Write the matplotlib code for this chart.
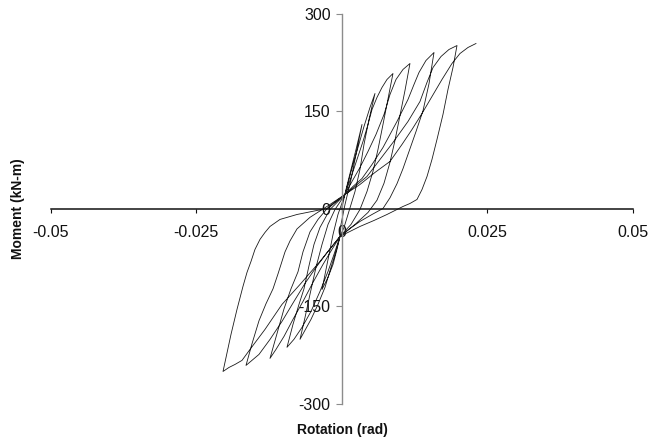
import matplotlib
matplotlib.use('Agg')

import numpy as np
from matplotlib import pyplot as plt

plt.rcParams['font.family'] = ['Liberation Sans', 'DejaVu Sans']

# rotation (rad) / moment (kN-m), one list per cycle
rot_0 = [0, 0.00074, 0.00160, 0.00246, 0.00349, 0.00263, 0.00160, 0.00057, -0.00012, -0.00029,
         -0.00081, -0.00149, -0.00235, -0.00338, -0.00235, -0.00149, -0.00064, 0.00057]
mom_0 = [0, 29.6, 60.4, 91.1, 129.5, 91.1, 45.0, 6.6, -24.1, -42.5,
         -62.4, -85.5, -105.4, -124.0, -77.9, -39.5, -8.8, 22.0]

rot_1 = [0.00125, 0.00194, 0.00280, 0.00383, 0.00486, 0.00572,
         0.00469, 0.00383, 0.00314, 0.00229, 0.00125, 0.00040, -0.00029,
         -0.00098, -0.00184, -0.00287, -0.00407, -0.00527, -0.00630, -0.00716,
         -0.00630, -0.00545, -0.00442, -0.00338, -0.00235, -0.00115, 0.00057]
mom_1 = [45.0, 68.1, 94.2, 126.4, 155.6, 177.1,
         137.2, 98.8, 60.4, 26.6, -4.1, -28.7, -42.5,
         -65.5, -90.1, -120.8, -146.9, -169.9, -186.8, -200.6,
         -166.9, -131.6, -90.1, -54.8, -24.1, -1.1, 22.0]

rot_2 = [0.00160, 0.00263, 0.00366, 0.00452, 0.00521, 0.00606, 0.00692, 0.00778, 0.00881,
         0.00795, 0.00710, 0.00624, 0.00538, 0.00435, 0.00314, 0.00160, -0.00029,
         -0.00132, -0.00235, -0.00373, -0.00527, -0.00682, -0.00820, -0.00940,
         -0.00837, -0.00734, -0.00648, -0.00562, -0.00476, -0.00373, -0.00201, 0.00057]
mom_2 = [48.1, 75.7, 103.4, 129.5, 152.5, 171.0, 186.3, 198.6, 207.8,
         168.1, 129.7, 91.3, 57.5, 26.6, -1.1, -24.1, -42.5,
         -70.1, -96.3, -127.0, -157.7, -182.3, -200.6, -212.9,
         -177.7, -147.0, -123.0, -87.6, -54.8, -28.7, -1.1, 22.0]

rot_3 = [0.00177, 0.00314, 0.00452, 0.00589, 0.00727, 0.00830, 0.00933, 0.01053, 0.01173,
         0.01088, 0.01002, 0.00916, 0.00830, 0.00727, 0.00606, 0.00452, 0.00229, -0.00029,
         -0.00167, -0.00321, -0.00493, -0.00665, -0.00837, -0.00991, -0.01129, -0.01232,
         -0.01112, -0.00991, -0.00871, -0.00751, -0.00665, -0.00545, -0.00407, -0.00235, 0.00057]
mom_3 = [41.9, 63.4, 88.0, 114.1, 144.8, 175.6, 198.6, 214.0, 223.2,
         182.0, 143.6, 105.2, 71.4, 39.2, 13.1, -5.7, -24.1, -42.5,
         -62.5, -85.5, -113.2, -142.4, -170.0, -196.1, -216.1, -229.9,
         -192.1, -153.7, -123.0, -96.9, -66.2, -35.6, -16.4, 2.0, 22.0]

rot_4 = [0.00194, 0.00349, 0.00521, 0.00710, 0.00950, 0.01139, 0.01242, 0.01328, 0.01448, 0.01586,
         0.01500, 0.01397, 0.01276, 0.01173, 0.01053, 0.00950, 0.00830, 0.00710, 0.00521, 0.00314,
         0.00143, -0.00029,
         -0.00235, -0.00442, -0.00630, -0.00820, -0.01026, -0.01232, -0.01421, -0.01541, -0.01644,
         -0.01541, -0.01421, -0.01301, -0.01180, -0.01094, -0.00974, -0.00888, -0.00768, -0.00545,
         -0.00253, 0.00057]
mom_4 = [34.3, 46.5, 68.0, 94.2, 134.1, 167.9, 190.9, 209.4, 227.8, 240.1,
         192.1, 150.6, 118.4, 92.3, 61.6, 38.5, 16.9, 0.5, -8.8, -19.5,
         -30.3, -42.5,
         -65.5, -90.1, -114.7, -142.4, -173.1, -200.8, -223.8, -233.0, -240.7,
         -207.4, -172.1, -146.0, -123.0, -100.0, -66.3, -49.4, -31.0, -13.2,
         3.5, 22.0]

rot_5 = [0.00246, 0.00435, 0.00658, 0.00881, 0.01139, 0.01345, 0.01465, 0.01569, 0.01706, 0.01843, 0.01981,
         0.01912, 0.01826, 0.01740, 0.01637, 0.01551, 0.01466, 0.01380, 0.01294, 0.01173, 0.01053,
         0.00916, 0.00778, 0.00555, 0.00314, 0.00143, -0.00029,
         -0.00373, -0.00716, -0.01026, -0.01318, -0.01575, -0.01713, -0.01833, -0.01936, -0.02039,
         -0.01902, -0.01799, -0.01696, -0.01627, -0.01558, -0.01490, -0.01404, -0.01318, -0.01232,
         -0.01060, -0.00768, -0.00424, -0.00235, 0.00057]
mom_5 = [35.8, 49.6, 75.7, 101.8, 134.1, 164.8, 194.0, 217.0, 233.9, 244.7, 250.8,
         217.0, 183.2, 144.8, 106.4, 75.7, 49.6, 29.6, 14.3, 8.1, 3.5,
         -2.6, -8.8, -18.0, -27.2, -34.9, -42.5,
         -80.9, -116.3, -147.0, -185.4, -216.1, -233.0, -239.2, -243.8, -250.0,
         -193.1, -154.7, -119.3, -97.8, -80.9, -62.5, -47.1, -36.4, -27.2,
         -16.4, -8.8, -2.6, 0.5, 22.0]

rot_end = [0.00314, 0.00572, 0.00830, 0.01036, 0.01208, 0.01380, 0.01551, 0.01723, 0.01895,
           0.02032, 0.02170, 0.02307]
mom_end = [37.3, 55.8, 72.7, 98.8, 121.8, 146.4, 172.5, 198.6, 223.2,
           238.5, 247.8, 253.9]

xticks = [-0.05, -0.025, 0, 0.025, 0.05]
xlabels = ['-0.05', '-0.025', '0', '0.025', '0.05']
yticks = [-300, -150, 0, 150, 300]
ylabels = ['-300', '-150', '0', '150', '300']

rot = np.concatenate([rot_0, rot_1, rot_2, rot_3, rot_4, rot_5, rot_end])
mom = np.concatenate([mom_0, mom_1, mom_2, mom_3, mom_4, mom_5, mom_end])

fig = plt.figure(figsize=(6.48, 4.4), dpi=100)
ax = fig.add_axes([0.0782, 0.0818, 0.8982, 0.8875])

ax.plot(rot, mom, color='#1a1a1a', linewidth=0.6, solid_joinstyle='round')

ax.set_xlim(-0.05, 0.05)
ax.set_ylim(-300, 300)
ax.spines['left'].set_position(('data', 0))
ax.spines['bottom'].set_position(('data', 0))
ax.spines['top'].set_visible(False)
ax.spines['right'].set_visible(False)
ax.spines['left'].set_color('#8c8c8c')
ax.spines['left'].set_linewidth(1.0)
ax.spines['bottom'].set_color('#111111')
ax.spines['bottom'].set_linewidth(1.1)

ax.set_xticks(xticks)
ax.set_xticklabels(xlabels)
ax.set_yticks(yticks)
ax.set_yticklabels(ylabels)
ax.tick_params(axis='x', direction='out', length=3, width=0.8, pad=9,
               labelsize=11.5, color='#111111', labelcolor='#111111')
ax.tick_params(axis='y', direction='out', length=4.5, width=0.8, pad=3.5,
               labelsize=11.5, color='#8c8c8c', labelcolor='#111111')

fig.text(0.528, 0.0227, 'Rotation (rad)', ha='center', va='center',
         fontsize=10, fontweight='bold', color='#111111')
fig.text(0.028, 0.525, 'Moment (kN-m)', ha='center', va='center', rotation=90,
         fontsize=10, fontweight='bold', color='#111111')

plt.savefig('out.png', dpi=100)
